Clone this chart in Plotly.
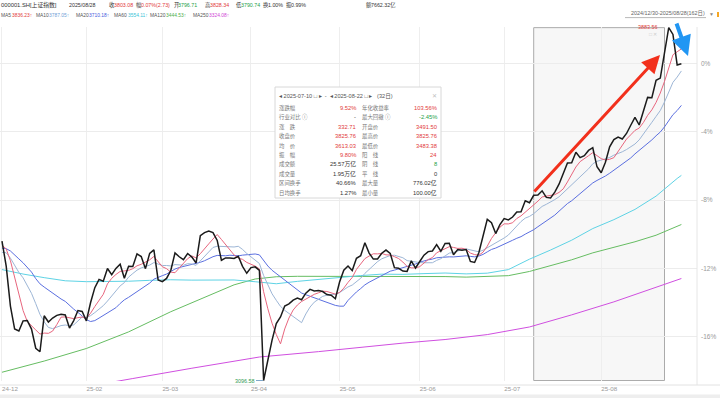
import plotly.graph_objects as go

# ---------------- data ----------------
close = [3407.33,3351.76,3262.56,3211.43,3206.92,3229.64,3230.17,3211.39,3168.52,3160.76,
3240.94,3227.12,3236.03,3241.82,3244.38,3242.62,3213.62,3230.16,3252.63,3250.60,
3229.49,3270.66,3303.67,3322.17,3318.06,3346.39,3332.48,3346.72,3355.83,3324.49,
3351.54,3350.78,3379.11,3373.03,3346.04,3380.21,3388.06,3320.90,3316.93,3324.21,
3341.96,3381.10,3372.55,3366.16,3379.83,3371.92,3358.73,3419.56,3426.43,3429.76,
3426.43,3408.95,3364.83,3370.03,3369.98,3368.70,3373.75,3351.31,3335.75,3348.44,
3350.13,3342.01,3096.58,3145.55,3186.81,3223.64,3238.23,3262.81,3267.66,3276.00,
3280.34,3276.73,3291.43,3299.76,3296.36,3297.29,3295.06,3288.41,3286.65,3279.03,
3316.11,3342.67,3352.00,3342.00,3369.24,3374.87,3403.95,3380.82,3367.46,3367.58,
3380.48,3387.57,3380.19,3348.37,3346.84,3340.69,3339.93,3363.45,3347.49,3361.98,
3376.20,3384.10,3385.36,3399.77,3384.82,3402.32,3402.66,3377.00,3388.73,3387.40,
3388.81,3362.11,3359.90,3381.58,3420.57,3455.97,3448.45,3424.23,3444.43,3457.75,
3454.79,3461.15,3472.32,3473.13,3497.48,3493.05,3509.68,3510.18,3519.65,3505.00,
3503.78,3516.83,3534.48,3559.79,3581.86,3582.30,3605.73,3593.66,3597.94,3609.71,
3615.72,3573.21,3559.95,3583.31,3617.60,3633.99,3639.67,3635.13,3647.55,3665.92,
3683.46,3666.44,3696.77,3728.03,3727.29,3766.21,3771.10,3825.76,3883.56,3868.38,
3800.35,3803.08]

ma5 = [3398.4,3390.0,3364.0,3326.6,3288.0,3252.6,3228.2,3217.8,3209.4,3200.2,
3202.4,3201.8,3206.8,3221.4,3238.0,3238.4,3235.8,3234.6,3236.8,3238.2,
3235.4,3246.8,3261.6,3275.4,3288.8,3312.2,3324.4,3333.0,3339.8,3341.0,
3342.2,3346.0,3352.4,3355.8,3360.2,3365.8,3373.2,3361.6,3350.4,3346.0,
3338.4,3337.0,3347.4,3357.2,3368.4,3374.4,3370.0,3379.4,3391.4,3401.4,
3412.2,3422.2,3411.2,3400.0,3388.0,3376.6,3369.6,3366.8,3360.0,3355.6,
3351.8,3345.4,3294.6,3256.6,3224.4,3199.2,3178.4,3211.6,3236.0,3253.8,
3265.0,3272.8,3278.4,3284.8,3288.8,3292.2,3295.8,3295.2,3292.6,3289.2,
3293.0,3302.6,3315.4,3326.4,3344.4,3356.2,3368.4,3374.2,3379.2,3379.0,
3380.0,3376.8,3376.6,3372.8,3368.6,3360.8,3351.2,3347.8,3347.6,3350.6,
3357.6,3366.4,3370.8,3381.4,3386.0,3391.2,3395.0,3393.4,3391.2,3391.6,
3389.0,3380.8,3377.4,3376.0,3382.8,3396.2,3413.4,3426.2,3438.6,3446.0,
3445.8,3448.4,3458.0,3463.8,3471.6,3479.2,3489.0,3496.6,3506.0,3507.6,
3509.8,3511.2,3516.0,3524.0,3539.4,3555.0,3572.8,3584.8,3592.4,3598.0,
3604.8,3598.2,3591.4,3588.4,3590.0,3593.6,3607.0,3622.0,3635.0,3644.6,
3654.4,3659.6,3672.0,3688.0,3700.2,3716.8,3737.8,3763.6,3794.8,3823.0,
3829.8,3836.2]

ma10 = [3382.4,3381.5,3369.6,3353.7,3337.6,3325.5,3309.1,3290.9,3268.0,3244.1,
3227.5,3215.0,3212.3,3215.4,3219.1,3220.4,3218.8,3220.7,3229.1,3238.1,
3236.9,3241.3,3248.1,3256.1,3263.5,3273.8,3285.6,3297.3,3307.6,3314.9,
3327.2,3335.2,3342.7,3347.8,3350.6,3354.0,3359.6,3357.0,3353.1,3353.1,
3352.1,3355.1,3354.5,3353.8,3357.2,3356.4,3353.5,3363.4,3374.3,3384.9,
3393.3,3396.1,3395.3,3395.7,3394.7,3394.4,3395.9,3389.0,3380.0,3371.8,
3364.2,3357.5,3330.7,3308.3,3290.0,3275.5,3261.9,3253.1,3246.3,3239.1,
3232.1,3225.6,3245.0,3260.4,3271.3,3278.6,3284.3,3286.8,3288.7,3289.0,
3292.6,3299.2,3305.3,3309.5,3316.8,3324.6,3335.5,3344.8,3352.8,3361.7,
3368.1,3372.6,3375.4,3376.0,3373.8,3370.4,3364.0,3362.2,3360.2,3359.6,
3359.2,3358.8,3359.3,3364.5,3368.3,3374.4,3380.7,3382.1,3386.3,3388.8,
3390.1,3387.9,3385.4,3383.6,3387.2,3392.6,3397.1,3401.8,3407.3,3414.4,
3421.0,3430.9,3442.1,3451.2,3458.8,3462.5,3468.7,3477.3,3484.9,3489.6,
3494.5,3500.1,3506.3,3515.0,3523.5,3532.4,3542.0,3550.4,3558.2,3568.7,
3579.9,3585.5,3588.1,3590.4,3594.0,3599.2,3602.6,3606.7,3611.7,3617.3,
3624.0,3633.3,3647.0,3661.5,3672.4,3685.6,3698.7,3717.8,3741.4,3761.6,
3773.3,3787.0]

ma20 = [3392.0,3390.6,3385.5,3377.6,3367.8,3359.1,3349.5,3338.4,3323.8,3312.2,
3305.0,3298.3,3291.0,3284.6,3278.4,3273.0,3264.0,3255.8,3248.6,3241.1,
3232.2,3228.2,3230.2,3235.8,3241.3,3247.1,3252.2,3259.0,3268.4,3276.5,
3282.1,3288.3,3295.4,3302.0,3307.1,3313.9,3322.6,3327.2,3330.4,3334.0,
3339.7,3345.2,3348.6,3350.8,3353.9,3355.2,3356.6,3360.2,3363.7,3369.0,
3372.7,3375.6,3374.9,3374.8,3376.0,3375.4,3374.7,3376.2,3377.2,3378.4,
3378.8,3376.8,3363.0,3352.0,3342.4,3335.0,3328.9,3321.1,3313.2,3305.5,
3298.2,3291.6,3287.9,3284.4,3280.7,3277.1,3273.1,3270.0,3267.5,3264.1,
3262.4,3262.4,3275.2,3285.0,3294.1,3301.6,3309.9,3315.8,3320.8,3325.4,
3330.4,3335.9,3340.4,3342.8,3345.3,3347.5,3349.8,3353.5,3356.5,3360.7,
3363.7,3365.7,3367.4,3370.3,3371.1,3372.4,3372.4,3372.2,3373.3,3374.2,
3374.7,3373.4,3372.4,3374.1,3377.8,3383.5,3388.9,3392.0,3396.8,3401.6,
3405.6,3409.4,3413.8,3417.4,3423.0,3427.6,3432.9,3439.6,3446.1,3452.0,
3457.8,3465.5,3474.2,3483.1,3491.2,3497.5,3505.4,3513.9,3521.6,3529.2,
3537.2,3542.8,3547.2,3552.7,3558.8,3565.8,3572.3,3578.6,3585.0,3593.0,
3602.0,3609.4,3617.6,3626.0,3633.2,3642.4,3650.7,3662.3,3676.6,3689.5,
3698.7,3710.2]

ma60_idx = [0,5,10,15,20,25,30,35,40,45,50,55,60,65,70,75,80,85,90,95,100,105,110,115,120,125,130,135,140,145,150,155,160,161]
ma60 = [3344,3334,3326,3319,3317,3317,3318,3320,3321.3,3320.5,3319.9,3320.8,3316.9,3312.4,3317.7,3322.1,3327.0,3330.6,3333.8,3333.3,3335.0,3336.3,3334.4,3336.0,3343.9,3367.2,3387.6,3409.5,3435.5,3455.3,3478.2,3507.8,3547.2,3554.1]

ma120_idx = [0,10,20,30,40,47,55,60,65,70,80,90,100,105,110,115,120,125,130,135,140,145,150,155,160,161]
ma120 = [3115,3140,3168,3205,3250,3278,3310,3323,3328,3329,3329,3328,3328.2,3328.4,3327.2,3328.4,3330.4,3339.8,3352.7,3365.8,3381.3,3393.0,3406.0,3420.6,3441.1,3444.5]

ma250_idx = [0,10,20,31,45,61,75,85,95,105,115,125,135,145,153,161]
ma250 = [3050,3066,3082,3101,3124,3149,3161,3171,3180,3188,3199,3216,3243,3272,3298,3324.1]

month_idx = [0,20,38,59,80,99,119,142]
month_lbl = ["24-12","25-02","25-03","25-04","25-05","25-06","25-07","25-08"]
pct_ticks = [0,-4,-8,-12,-16]
pct_lbl = ["0%","-4%","-8%","-12%","-16%"]
sel_start, sel_end = 126, 157

# ---------------- layout helpers ----------------
W, H = 720, 398
ML, MR, MT, MB = 0, 23, 27, 17
PW, PH = W - ML - MR, H - MT - MB
def px(x): return (x - ML) / PW
def py(y): return (H - MB - y) / PH

F = "Liberation Sans, Noto Sans CJK SC, sans-serif"
RED, GRN, DRK, GRY = "#e23b3b", "#24a148", "#333333", "#777777"

x = list(range(len(close)))
fig = go.Figure()
def line(xs, ys, color, w):
    fig.add_trace(go.Scatter(x=xs, y=ys, mode="lines", line=dict(color=color, width=w),
                             hoverinfo="skip", showlegend=False))
line(ma250_idx, ma250, "#d04fe0", 1)
line(ma120_idx, ma120, "#66bd62", 1)
line(ma60_idx, ma60, "#5ed3e5", 1)
line(x, ma20, "#5b6fe0", 1)
line(x, ma10, "#9db6d6", 1)
line(x, ma5, "#e8667e", 1)
line(x, close, "#1b1b1b", 1.5)

last = close[-1]
shapes = []
annotations = []

def ann(xp, yp, text, color, size=5.6, anchor="left"):
    annotations.append(dict(x=px(xp), y=py(yp), xref="paper", yref="paper", text=text,
                            showarrow=False, xanchor=anchor, yanchor="middle", borderpad=0,
                            font=dict(size=size, color=color, family=F)))

# selection rectangle
shapes.append(dict(type="rect", xref="x", yref="y", x0=sel_start, x1=sel_end,
                   y0=min(close), y1=max(close), line=dict(color="#ababab", width=1),
                   fillcolor="rgba(0,0,0,0.03)", layer="below"))
# borders
shapes.append(dict(type="line", xref="paper", yref="paper", x0=1, x1=1, y0=py(385), y1=1,
                   line=dict(color="#e6e6e6", width=1)))
shapes.append(dict(type="line", xref="paper", yref="paper", x0=0, x1=px(720), y0=py(385), y1=py(385),
                   line=dict(color="#e2e2e2", width=1)))
shapes.append(dict(type="rect", xref="paper", yref="paper", x0=0, x1=px(720), y0=py(398), y1=py(394.5),
                   line=dict(width=0), fillcolor="#eeeeee"))
# leader for low
shapes.append(dict(type="line", xref="paper", yref="paper", x0=px(256), x1=px(263), y0=py(380.5), y1=py(380.5),
                   line=dict(color="#7fa7c9", width=1)))

# header line 1
H1 = 5.3
ann(0, 5, "000001.SH[上证指数]", DRK, 5.8)
ann(68, 5, "2025/08/28", DRK, H1)
ann(107.5, 5, "收", DRK, H1); ann(112.5, 5, "3803.08", RED, H1)
ann(134.5, 5, "幅", DRK, H1); ann(139.5, 5, "0.07%(2.73)", RED, H1)
ann(172.5, 5, "开", DRK, H1); ann(177.5, 5, "3796.71", GRN, H1)
ann(203.5, 5, "高", DRK, H1); ann(208.5, 5, "3828.34", RED, H1)
ann(234.5, 5, "低", DRK, H1); ann(239.5, 5, "3790.74", GRN, H1)
ann(262, 5, "换", DRK, H1); ann(267, 5, "1.00%", DRK, H1)
ann(285, 5, "振", DRK, H1); ann(290, 5, "0.99%", DRK, H1)
ann(364.5, 5, "额", DRK, H1); ann(370, 5, "7662.32亿", DRK, H1)
# header line 2 (MA legend)
ma_items = [(0, 11, "MA5", "3836.23↑", "#e23b3b"), (35, 48, "MA10", "3787.05↑", "#6f9fd6"),
            (75, 88, "MA20", "3710.18↑", "#4459dd"), (113, 127, "MA60", "3554.11↑", "#39c3d6"),
            (149, 165, "MA120", "3444.53↑", "#4cae4c"), (192, 208, "MA250", "3324.08↑", "#cf3fd6")]
for lx, vx, lab, val, col in ma_items:
    ann(lx, 15, lab, "#555555", 4.9)
    ann(vx, 15, val, col, 4.9)
# date range
ann(706, 14, "2024/12/30-2025/08/28(162日)", "#666666", 5.4, "right")
shapes.append(dict(type="line", xref="paper", yref="paper", x0=px(625), x1=px(706), y0=py(17.6), y1=py(17.6),
                   line=dict(color="#888888", width=0.6)))
ann(708, 14, "▼", "#888888", 5, "left")
shapes.append(dict(type="rect", xref="paper", yref="paper", x0=px(717), x1=px(719), y0=py(17), y1=py(12),
                   line=dict(width=0), fillcolor="#f5a623"))

# labels on the chart
ann(659, 27, "3883.56", RED, 5.4, "right")
ann(648, 34, "□ ✕", "#cccccc", 5, "left")
ann(256, 380.5, "3096.58", "#2e9a50", 5.4, "right")

# arrows
annotations.append(dict(x=px(660), y=py(55), xref="paper", yref="paper", text="", showarrow=True,
                        ax=533 - 660, ay=193 - 55, arrowcolor="#f2301c", arrowwidth=3,
                        arrowhead=2, arrowsize=1.2))
annotations.append(dict(x=px(688), y=py(56), xref="paper", yref="paper", text="", showarrow=True,
                        ax=-12, ay=-34, arrowcolor="#2196f3", arrowwidth=4,
                        arrowhead=2, arrowsize=1.0))

# info box
shapes.append(dict(type="rect", xref="paper", yref="paper", x0=px(275), x1=px(441), y0=py(198), y1=py(87),
                   line=dict(color="#d8d8d8", width=1), fillcolor="white", layer="above"))
ann(278, 96, "◂ 2025-07-10 □ ▸  -  ◂ 2025-08-22 □ ▸   (32日)", "#555555", 5.6)
ann(438, 96, "✕", "#c0c0c0", 6, "right")
rows = [("涨跌幅", "9.52%", RED, "年化收益率", "103.56%", RED),
        ("行业对比 ⓘ", "-", DRK, "最大回撤 ⓘ", "-2.45%", GRN),
        ("涨　跌", "332.71", RED, "开盘价", "3491.50", RED),
        ("收盘价", "3825.76", RED, "最高价", "3825.76", RED),
        ("均　价", "3613.03", RED, "最低价", "3483.38", RED),
        ("振　幅", "9.80%", RED, "阳　线", "24", RED),
        ("成交额", "25.57万亿", DRK, "阴　线", "8", GRN),
        ("成交量", "1.95万亿", DRK, "平　线", "0", DRK),
        ("区间换手", "40.66%", DRK, "最大量", "776.02亿", DRK),
        ("日均换手", "1.27%", DRK, "最小量", "100.00亿", DRK)]
for k, (l1, v1, c1, l2, v2, c2) in enumerate(rows):
    yy = 108 + 9.4 * k
    ann(278, yy, l1, GRY, 5.4)
    ann(357, yy, v1, c1, 5.8, "right")
    ann(361, yy, l2, GRY, 5.4)
    ann(438, yy, v2, c2, 5.8, "right")

fig.update_layout(
    width=W, height=H, margin=dict(l=ML, r=MR, t=MT, b=MB),
    paper_bgcolor="white", plot_bgcolor="white", showlegend=False, hovermode=False,
    shapes=shapes, annotations=annotations,
    xaxis=dict(range=[-0.47, 164.7], tickvals=month_idx, ticktext=month_lbl, showgrid=True,
               gridcolor="#eeeeee", gridwidth=1, zeroline=False, showline=False, ticks="",
               tickfont=dict(size=6.2, color="#999999", family=F), ticklabelshift=8,
               ticklabelstandoff=3),
    yaxis=dict(range=[3095.5, 3885.0], side="right",
               tickvals=[last * (1 + p / 100) for p in pct_ticks], ticktext=pct_lbl,
               showgrid=True, gridcolor="#ececec", gridwidth=1, zeroline=False, showline=False,
               ticks="", tickfont=dict(size=6.5, color="#999999", family=F), ticklabelstandoff=3),
)
fig.write_html("out.html", config={"displayModeBar": False},
               post_script="document.body.style.margin='0px';document.body.style.overflow='hidden';")
